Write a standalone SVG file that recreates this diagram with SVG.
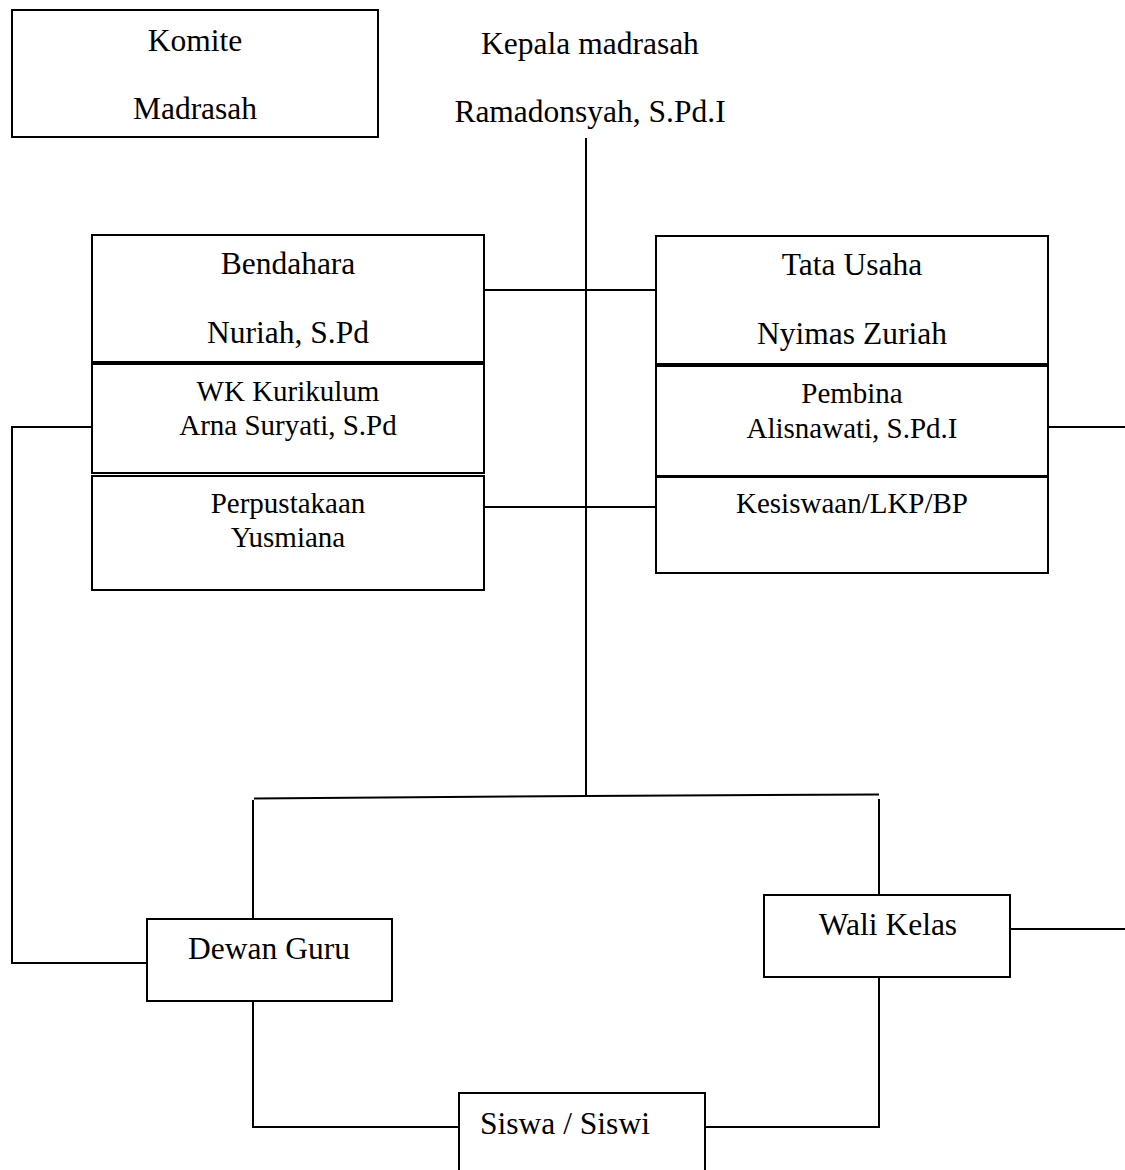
<svg xmlns="http://www.w3.org/2000/svg" width="1125" height="1170" viewBox="0 0 1125 1170">
  <style>
    .box { fill: #fff; stroke: #000; stroke-width: 2; }
    .conn { fill: none; stroke: #000; stroke-width: 2; }
    text { font-family: "Liberation Serif", "Times New Roman", serif; fill: #000; text-anchor: middle; }
    .big { font-size: 31.5px; }
    .small { font-size: 29px; }
  </style>
  <rect width="1125" height="1170" fill="#fff"/>

  <g id="connectors">
    <path class="conn" d="M586 138 V796"/>
    <path class="conn" d="M484 290 H656"/>
    <path class="conn" d="M484 507 H656"/>
    <path class="conn" d="M92 427 H12 V963 H147"/>
    <path class="conn" d="M1048 427 H1125"/>
    <path class="conn" d="M254 798.5 L586 796 L879 794.5"/>
    <path class="conn" d="M253 800 V918"/>
    <path class="conn" d="M879 799 V895"/>
    <path class="conn" d="M1010 929 H1125"/>
    <path class="conn" d="M253 1001 V1127 H459"/>
    <path class="conn" d="M705 1127 H879 V977"/>
  </g>

  <g id="komite">
    <rect class="box" x="12" y="10" width="366" height="127"/>
    <text class="big" x="195" y="51">Komite</text>
    <text class="big" x="195" y="119">Madrasah</text>
  </g>

  <g id="kepala">
    <text class="big" x="590" y="54">Kepala madrasah</text>
    <text class="big" x="590" y="122">Ramadonsyah, S.Pd.I</text>
  </g>

  <g id="bendahara">
    <rect class="box" x="92" y="235" width="392" height="127"/>
    <text class="big" x="288" y="274">Bendahara</text>
    <text class="big" x="288" y="343">Nuriah, S.Pd</text>
  </g>

  <g id="wk-kurikulum">
    <rect class="box" x="92" y="364" width="392" height="109"/>
    <text class="small" x="288" y="401">WK Kurikulum</text>
    <text class="small" x="288" y="435">Arna Suryati, S.Pd</text>
  </g>

  <g id="perpustakaan">
    <rect class="box" x="92" y="476" width="392" height="114"/>
    <text class="small" x="288" y="513">Perpustakaan</text>
    <text class="small" x="288" y="547">Yusmiana</text>
  </g>

  <g id="tata-usaha">
    <rect class="box" x="656" y="236" width="392" height="128"/>
    <text class="big" x="852" y="275">Tata Usaha</text>
    <text class="big" x="852" y="344">Nyimas Zuriah</text>
  </g>

  <g id="pembina">
    <rect class="box" x="656" y="366" width="392" height="110"/>
    <text class="small" x="852" y="403">Pembina</text>
    <text class="small" x="852" y="438">Alisnawati, S.Pd.I</text>
  </g>

  <g id="kesiswaan">
    <rect class="box" x="656" y="477" width="392" height="96"/>
    <text class="small" x="852" y="513">Kesiswaan/LKP/BP</text>
  </g>

  <g id="dewan-guru">
    <rect class="box" x="147" y="919" width="245" height="82"/>
    <text class="big" x="269" y="959">Dewan Guru</text>
  </g>

  <g id="wali-kelas">
    <rect class="box" x="764" y="895" width="246" height="82"/>
    <text class="big" x="888" y="935">Wali Kelas</text>
  </g>

  <g id="siswa">
    <rect class="box" x="459" y="1093" width="246" height="90"/>
    <text class="big" x="565" y="1134">Siswa / Siswi</text>
  </g>
</svg>
